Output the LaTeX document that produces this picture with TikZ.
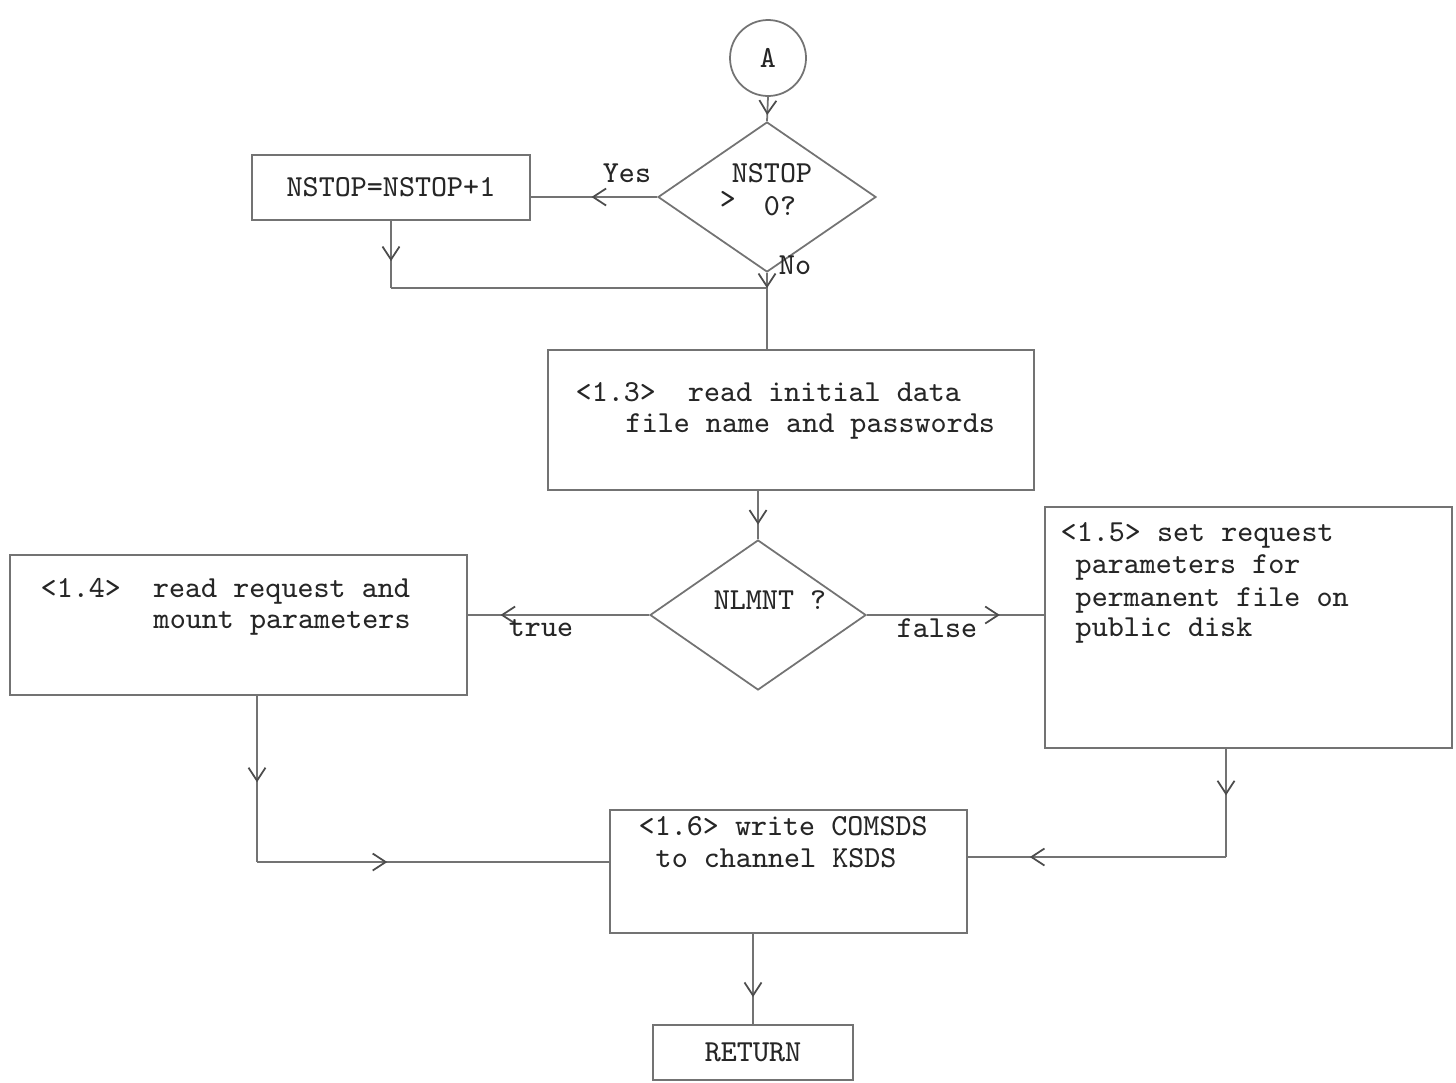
\documentclass[tikz,border=0pt]{standalone}
\usepackage{tikz}
\usetikzlibrary{shapes.geometric, arrows.meta, decorations.markings}

\begin{document}
\begin{tikzpicture}[
    every node/.style={font=\ttfamily\fontsize{8.7}{9.4}\selectfont, text=black!85},
    line/.style={draw=black!55, line width=0.5pt},
    box/.style={line, rectangle, inner sep=0pt},
    txt/.style={anchor=west, inner sep=0pt},
    flow/.style={line, postaction={decorate},
      decoration={markings, mark=at position #1 with {\arrow[black!70]{Straight Barb[length=1.3mm,width=1.7mm]}}}},
    flow/.default=0.5]
  \useasboundingbox (0,0) rectangle (14.56,-10.82);

  % Start and first test
  \node[circle, line, minimum size=0.76cm, inner sep=0pt] (A) at (7.68,-0.58) {A};
  \node[diamond, line, minimum width=2.18cm, minimum height=1.50cm, inner sep=0pt] (d1) at (7.67,-1.97) {};
  \node[inner sep=0pt] at (7.72,-1.73) {NSTOP};
  \node[inner sep=0pt] at (7.28,-2.00) {>};
  \node[inner sep=0pt] at (7.80,-2.06) {0?};
  \node[box, minimum width=2.78cm, minimum height=0.65cm] (nstop) at (3.91,-1.875) {NSTOP=NSTOP+1};

  % Read box and second test
  \node[box, minimum width=4.86cm, minimum height=1.40cm] (b13) at (7.91,-4.20) {};
  \node[txt] at (5.75,-3.92) {<1.3>\ \ read initial data};
  \node[txt] at (6.25,-4.26) {file name and passwords};
  \node[diamond, line, minimum width=2.16cm, minimum height=1.50cm, inner sep=0pt] (d2) at (7.58,-6.15) {};
  \node at (7.70,-6.00) {NLMNT ?};

  % Branch boxes
  \node[box, minimum width=4.57cm, minimum height=1.40cm] (b14) at (2.385,-6.25) {};
  \node[txt] at (0.40,-5.91) {<1.4>\ \ read request and};
  \node[txt] at (1.53,-6.23) {mount parameters};
  \node[box, minimum width=4.07cm, minimum height=2.41cm] (b15) at (12.485,-6.275) {};
  \node[txt] at (10.60,-5.35) {<1.5> set request};
  \node[txt] at (10.75,-5.67) {parameters for};
  \node[txt] at (10.75,-6.00) {permanent file on};
  \node[txt] at (10.75,-6.31) {public disk};

  % Write box and end
  \node[box, minimum width=3.57cm, minimum height=1.23cm] (b16) at (7.885,-8.715) {};
  \node[txt] at (6.38,-8.26) {<1.6> write COMSDS};
  \node[txt] at (6.55,-8.58) {to channel KSDS};
  \node[box, minimum width=2.00cm, minimum height=0.55cm] (ret) at (7.53,-10.525) {RETURN};

  % Joins
  \coordinate (j2) at (7.66,-2.88);
  \coordinate (j1) at (nstop.south |- j2);
  \coordinate (k1) at (2.57,-8.62);
  \coordinate (k2) at (12.26,-8.57);

  % Arrows for the first test
  \draw[flow=0.75] (A.south) -- (d1.north);
  \draw[flow=0.52] (d1.west) -- (d1.west -| nstop.east);
  \node at (6.27,-1.73) {Yes};
  \draw[flow=0.6] (nstop.south) -- (j1);
  \draw[line] (j1) -- (j2);
  \draw[flow=0.2] (d1.south) -- (d1.south |- b13.north);
  \node at (7.95,-2.65) {No};

  % Arrows for the second test
  \draw[flow=0.7] (b13.south -| d2.north) -- (d2.north);
  \draw[flow=0.82] (d2.west) -- (d2.west -| b14.east);
  \node at (5.41,-6.28) {true};
  \draw[flow=0.75] (d2.east) -- (d2.east -| b15.west);
  \node at (9.37,-6.28) {false};

  % Arrows into the write box
  \draw[flow=0.52] (b14.south -| k1) -- (k1);
  \draw[flow=0.37] (k1) -- (k1 -| b16.west);
  \draw[flow=0.43] (b15.south -| k2) -- (k2);
  \draw[flow=0.76] (k2) -- (k2 -| b16.east);
  \draw[flow=0.7] (ret.north |- b16.south) -- (ret.north);
\end{tikzpicture}
\end{document}
